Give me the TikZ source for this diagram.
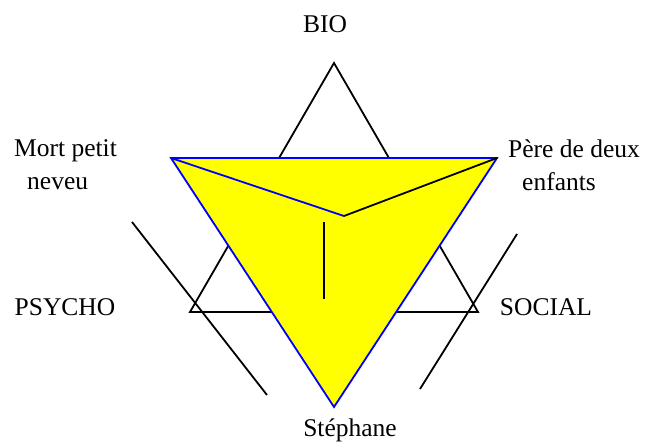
\documentclass[tikz,border=0pt]{standalone}
\usepackage{fontspec}
\setmainfont{Liberation Serif}
\definecolor{pureyellow}{RGB}{255,255,0}
\definecolor{pureblue}{RGB}{0,0,255}
\begin{document}
\begin{tikzpicture}[x=1pt,y=-1pt,
  lbl/.style={font=\fontsize{25.5}{33}\selectfont, inner sep=0pt},
  blk/.style={draw=black, line width=1.8pt, line join=miter},
  blu/.style={draw=pureblue, line width=1.8pt, line join=miter}]
\useasboundingbox[fill=white] (0,0) rectangle (647,443);
% black triangle vertices
\coordinate (T1) at (334,63);
\coordinate (L1) at (190,312);
\coordinate (R1) at (478,312);
% yellow triangle vertices
\coordinate (A) at (171,158);
\coordinate (B) at (497,158);
\coordinate (C) at (334,407);
\coordinate (P) at (344,216);
% vertical bar
\coordinate (V1) at (324,222);
\coordinate (V2) at (324,299);
% long lines
\coordinate (LA) at (132,222);
\coordinate (LB) at (267,395);
\coordinate (RA) at (517,234);
\coordinate (RB) at (420,389);
\draw[blk] (T1) -- (L1) -- (R1) -- cycle;
\draw[blu, fill=pureyellow] (A) -- (B) -- (C) -- cycle;
\draw[blu] (A) -- (P);
\draw[blk] (P) -- (B);
\draw[blk] (V1) -- (V2);
\draw[blk] (LA) -- (LB);
\draw[blk] (RA) -- (RB);
% labels
\node[lbl, anchor=base] (bio) at (325,33) {BIO};
\node[lbl, anchor=base] (psycho) at (65,316) {PSYCHO};
\node[lbl, anchor=base] (social) at (546,315) {SOCIAL};
\node[lbl, anchor=base] (stephane) at (350,436) {Stéphane};
\node[lbl, anchor=north west, align=left] (mort) at (14,139.6) {Mort petit\\\hspace*{13pt}neveu};
\node[lbl, anchor=north west, align=left] (pere) at (508,139.6) {Père de deux\\\hspace*{14pt}enfants};
\end{tikzpicture}
\end{document}
